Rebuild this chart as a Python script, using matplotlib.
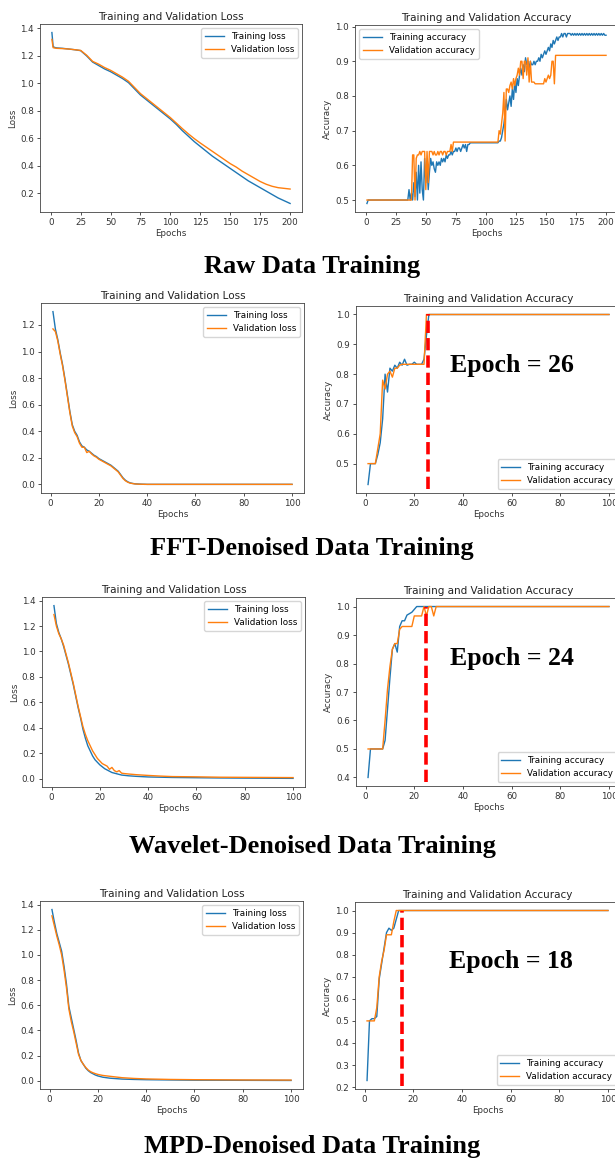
import numpy as np
import matplotlib
matplotlib.use("Agg")
import matplotlib.pyplot as plt
from matplotlib.ticker import MultipleLocator

# =============================================================================
# DATA
# =============================================================================

# --- Raw data, 200 epochs ---
raw_loss_ep = [1, 2, 3, 5, 10, 15, 20, 25, 30, 35, 40, 45, 50, 55, 60, 65, 70, 75, 80, 85,
               90, 95, 100, 105, 110, 115, 120, 125, 130, 135, 140, 145, 150, 155, 160,
               165, 170, 175, 180, 185, 190, 195, 200]
raw_train_loss = [1.37, 1.27, 1.262, 1.258, 1.255, 1.25, 1.245, 1.238, 1.20, 1.155, 1.13,
                  1.105, 1.085, 1.06, 1.035, 1.005, 0.96, 0.915, 0.88, 0.845, 0.81, 0.775,
                  0.74, 0.70, 0.655, 0.615, 0.575, 0.54, 0.505, 0.47, 0.44, 0.41, 0.38,
                  0.35, 0.32, 0.29, 0.265, 0.24, 0.215, 0.19, 0.165, 0.145, 0.125]
raw_val_loss = [1.32, 1.26, 1.258, 1.255, 1.253, 1.25, 1.245, 1.24, 1.205, 1.16, 1.14,
                1.115, 1.095, 1.07, 1.045, 1.015, 0.97, 0.925, 0.89, 0.855, 0.82, 0.785,
                0.75, 0.71, 0.67, 0.632, 0.597, 0.565, 0.535, 0.505, 0.475, 0.445, 0.415,
                0.39, 0.36, 0.335, 0.31, 0.285, 0.265, 0.25, 0.24, 0.235, 0.23]

raw_acc_ep = list(range(1, 201))
raw_train_acc = [
    0.49, 0.50, 0.50, 0.50, 0.50, 0.50, 0.50, 0.50, 0.50, 0.50,
    0.50, 0.50, 0.50, 0.50, 0.50, 0.50, 0.50, 0.50, 0.50, 0.50,
    0.50, 0.50, 0.50, 0.50, 0.50, 0.50, 0.50, 0.50, 0.50, 0.50,
    0.50, 0.50, 0.50, 0.50, 0.50, 0.53, 0.50, 0.52, 0.50, 0.55,
    0.51, 0.58, 0.50, 0.60, 0.52, 0.61, 0.53, 0.50, 0.62, 0.55,
    0.60, 0.53, 0.58, 0.62, 0.60, 0.61, 0.59, 0.58, 0.61, 0.60,
    0.61, 0.60, 0.62, 0.61, 0.62, 0.61, 0.63, 0.62, 0.63, 0.63,
    0.64, 0.63, 0.64, 0.64, 0.65, 0.64, 0.65, 0.65, 0.64, 0.65,
    0.66, 0.65, 0.66, 0.64, 0.66, 0.66, 0.665, 0.665, 0.665, 0.665,
    0.665, 0.665, 0.665, 0.665, 0.665, 0.665, 0.665, 0.665, 0.665, 0.665,
    0.665, 0.665, 0.665, 0.665, 0.665, 0.665, 0.665, 0.665, 0.665, 0.665,
    0.67, 0.67, 0.68, 0.70, 0.72, 0.75, 0.79, 0.76, 0.78, 0.80,
    0.77, 0.82, 0.79, 0.84, 0.81, 0.85, 0.83, 0.86, 0.88, 0.86,
    0.89, 0.87, 0.91, 0.89, 0.90, 0.88, 0.90, 0.89, 0.89, 0.90,
    0.89, 0.90, 0.90, 0.91, 0.90, 0.92, 0.91, 0.92, 0.93, 0.92,
    0.93, 0.94, 0.93, 0.95, 0.94, 0.96, 0.95, 0.96, 0.97, 0.96,
    0.97, 0.97, 0.98, 0.97, 0.98, 0.98, 0.97, 0.98, 0.98, 0.98,
    0.975, 0.98, 0.975, 0.98, 0.975, 0.98, 0.975, 0.98, 0.975, 0.98,
    0.975, 0.98, 0.975, 0.98, 0.975, 0.98, 0.975, 0.98, 0.975, 0.98,
    0.975, 0.98, 0.975, 0.98, 0.975, 0.98, 0.975, 0.98, 0.975, 0.975,
]
raw_val_acc = [
    0.50, 0.50, 0.50, 0.50, 0.50, 0.50, 0.50, 0.50, 0.50, 0.50,
    0.50, 0.50, 0.50, 0.50, 0.50, 0.50, 0.50, 0.50, 0.50, 0.50,
    0.50, 0.50, 0.50, 0.50, 0.50, 0.50, 0.50, 0.50, 0.50, 0.50,
    0.50, 0.50, 0.50, 0.50, 0.50, 0.50, 0.50, 0.50, 0.63, 0.63,
    0.50, 0.62, 0.63, 0.63, 0.64, 0.63, 0.64, 0.64, 0.64, 0.53,
    0.64, 0.55, 0.64, 0.64, 0.64, 0.63, 0.64, 0.63, 0.63, 0.64,
    0.63, 0.64, 0.64, 0.63, 0.64, 0.64, 0.63, 0.64, 0.64, 0.64,
    0.66, 0.64, 0.667, 0.667, 0.667, 0.667, 0.667, 0.667, 0.667, 0.667,
    0.667, 0.667, 0.667, 0.667, 0.667, 0.667, 0.667, 0.667, 0.667, 0.667,
    0.667, 0.667, 0.667, 0.667, 0.667, 0.667, 0.667, 0.667, 0.667, 0.667,
    0.667, 0.667, 0.667, 0.667, 0.667, 0.667, 0.667, 0.667, 0.667, 0.667,
    0.70, 0.69, 0.72, 0.75, 0.81, 0.67, 0.82, 0.82, 0.81, 0.83,
    0.84, 0.82, 0.85, 0.83, 0.85, 0.86, 0.88, 0.86, 0.90, 0.90,
    0.85, 0.90, 0.90, 0.86, 0.91, 0.84, 0.90, 0.84, 0.84, 0.84,
    0.835, 0.835, 0.835, 0.835, 0.835, 0.835, 0.835, 0.835, 0.85, 0.84,
    0.85, 0.86, 0.85, 0.86, 0.90, 0.90, 0.835, 0.917, 0.917, 0.917,
    0.917, 0.917, 0.917, 0.917, 0.917, 0.917, 0.917, 0.917, 0.917, 0.917,
    0.917, 0.917, 0.917, 0.917, 0.917, 0.917, 0.917, 0.917, 0.917, 0.917,
    0.917, 0.917, 0.917, 0.917, 0.917, 0.917, 0.917, 0.917, 0.917, 0.917,
    0.917, 0.917, 0.917, 0.917, 0.917, 0.917, 0.917, 0.917, 0.917, 0.917,
]

# --- FFT-denoised, 100 epochs ---
fft_loss_ep = list(range(1, 41)) + [50, 60, 70, 80, 90, 100]
fft_train_loss = [1.30, 1.17, 1.09, 0.99, 0.90, 0.79, 0.67, 0.55, 0.45, 0.40,
                  0.37, 0.32, 0.29, 0.28, 0.26, 0.25, 0.235, 0.22, 0.21, 0.195,
                  0.185, 0.175, 0.165, 0.155, 0.145, 0.13, 0.115, 0.10, 0.075, 0.05,
                  0.032, 0.02, 0.012, 0.008, 0.005, 0.004, 0.003, 0.002, 0.002, 0.001,
                  0.001, 0.001, 0.001, 0.001, 0.001, 0.001]
fft_val_loss = [1.17, 1.15, 1.08, 0.98, 0.89, 0.78, 0.66, 0.54, 0.44, 0.39,
                0.36, 0.31, 0.28, 0.28, 0.24, 0.25, 0.23, 0.215, 0.205, 0.19,
                0.18, 0.17, 0.16, 0.15, 0.14, 0.125, 0.11, 0.095, 0.07, 0.045,
                0.028, 0.017, 0.010, 0.007, 0.004, 0.003, 0.002, 0.002, 0.001, 0.001,
                0.001, 0.001, 0.001, 0.001, 0.001, 0.001]

fft_acc_ep = list(range(1, 31)) + [40, 50, 60, 70, 80, 90, 100]
fft_train_acc = [0.43, 0.50, 0.50, 0.50, 0.53, 0.57, 0.65, 0.80, 0.74, 0.82,
                 0.81, 0.83, 0.82, 0.84, 0.83, 0.85, 0.83, 0.833, 0.833, 0.84,
                 0.833, 0.833, 0.833, 0.85, 0.93, 1.0, 1.0, 1.0, 1.0, 1.0,
                 1.0, 1.0, 1.0, 1.0, 1.0, 1.0, 1.0]
fft_val_acc = [0.50, 0.50, 0.50, 0.50, 0.55, 0.60, 0.78, 0.75, 0.80, 0.81,
               0.79, 0.82, 0.82, 0.83, 0.833, 0.833, 0.833, 0.833, 0.833, 0.833,
               0.833, 0.833, 0.833, 0.833, 1.0, 1.0, 1.0, 1.0, 1.0, 1.0,
               1.0, 1.0, 1.0, 1.0, 1.0, 1.0, 1.0]

# --- Wavelet-denoised, 100 epochs ---
wav_loss_ep = list(range(1, 31)) + [32, 35, 40, 45, 50, 60, 70, 80, 90, 100]
wav_train_loss = [1.36, 1.22, 1.15, 1.10, 1.04, 0.97, 0.90, 0.82, 0.74, 0.65,
                  0.56, 0.48, 0.39, 0.32, 0.26, 0.22, 0.18, 0.15, 0.13, 0.11,
                  0.095, 0.08, 0.07, 0.06, 0.05, 0.045, 0.04, 0.035, 0.03, 0.028,
                  0.024, 0.02, 0.015, 0.013, 0.011, 0.009, 0.007, 0.006, 0.005, 0.004]
wav_val_loss = [1.29, 1.20, 1.14, 1.10, 1.05, 0.98, 0.91, 0.83, 0.75, 0.66,
                0.57, 0.49, 0.41, 0.35, 0.30, 0.26, 0.22, 0.19, 0.16, 0.14,
                0.12, 0.11, 0.10, 0.075, 0.09, 0.065, 0.055, 0.065, 0.045, 0.042,
                0.038, 0.033, 0.027, 0.022, 0.018, 0.016, 0.013, 0.012, 0.011, 0.010]

wav_acc_ep = list(range(1, 31)) + [40, 50, 60, 70, 80, 90, 100]
wav_train_acc = [0.40, 0.50, 0.50, 0.50, 0.50, 0.50, 0.50, 0.53, 0.64, 0.75,
                 0.85, 0.87, 0.84, 0.93, 0.95, 0.95, 0.97, 0.975, 0.98, 0.99,
                 1.0, 1.0, 1.0, 1.0, 1.0, 1.0, 1.0, 1.0, 1.0, 1.0,
                 1.0, 1.0, 1.0, 1.0, 1.0, 1.0, 1.0]
wav_val_acc = [0.50, 0.50, 0.50, 0.50, 0.50, 0.50, 0.50, 0.60, 0.71, 0.79,
               0.85, 0.87, 0.87, 0.92, 0.93, 0.93, 0.93, 0.93, 0.93, 0.967,
               0.967, 0.967, 0.967, 1.0, 0.967, 1.0, 1.0, 0.967, 1.0, 1.0,
               1.0, 1.0, 1.0, 1.0, 1.0, 1.0, 1.0]

# --- MPD-denoised, 100 epochs ---
mpd_loss_ep = list(range(1, 21)) + [22, 25, 30, 35, 40, 50, 60, 80, 100]
mpd_train_loss = [1.36, 1.26, 1.17, 1.10, 1.03, 0.91, 0.77, 0.59, 0.50, 0.41,
                  0.32, 0.22, 0.16, 0.13, 0.10, 0.08, 0.065, 0.055, 0.045, 0.038,
                  0.028, 0.02, 0.013, 0.01, 0.008, 0.006, 0.004, 0.003, 0.002]
mpd_val_loss = [1.31, 1.23, 1.15, 1.08, 1.00, 0.88, 0.74, 0.57, 0.47, 0.39,
                0.30, 0.21, 0.16, 0.13, 0.105, 0.085, 0.072, 0.063, 0.056, 0.05,
                0.042, 0.035, 0.024, 0.018, 0.014, 0.010, 0.008, 0.006, 0.005]

mpd_acc_ep = list(range(1, 21)) + [30, 40, 50, 60, 70, 80, 90, 100]
mpd_train_acc = [0.23, 0.50, 0.51, 0.51, 0.52, 0.69, 0.76, 0.83, 0.90, 0.92,
                 0.91, 0.92, 0.96, 1.0, 1.0, 1.0, 1.0, 1.0, 1.0, 1.0,
                 1.0, 1.0, 1.0, 1.0, 1.0, 1.0, 1.0, 1.0]
mpd_val_acc = [0.50, 0.50, 0.50, 0.50, 0.56, 0.70, 0.77, 0.82, 0.89, 0.89,
               0.89, 0.95, 1.0, 1.0, 1.0, 1.0, 1.0, 1.0, 1.0, 1.0,
               1.0, 1.0, 1.0, 1.0, 1.0, 1.0, 1.0, 1.0]

# converged-epoch markers (label, where the dashed line sits)
epoch_labels = ["Epoch = 26", "Epoch = 24", "Epoch = 18"]
epoch_lines = [25.5, 24.8, 15.2]

captions = ["Raw Data Training", "FFT-Denoised Data Training",
            "Wavelet-Denoised Data Training", "MPD-Denoised Data Training"]

# =============================================================================
# LAYOUT (pixel boxes of the panels in the 615x1165 picture)
# =============================================================================
W, H = 615, 1165
fig = plt.figure(figsize=(W / 100, H / 100), dpi=100)
fig.patch.set_facecolor("white")

SMALL = 6.3
TITLE = 7.5


def add_ax(left, top, right, bottom):
    ax = fig.add_axes([left / W, 1 - bottom / H, (right - left) / W, (bottom - top) / H])
    for s in ax.spines.values():
        s.set_linewidth(0.6)
        s.set_color("#444444")
    ax.tick_params(labelsize=SMALL, length=2.5, width=0.6, pad=2, colors="#333333")
    return ax


def loss_panel(box, ep, tr, va, xstep, ystep):
    ax = add_ax(*box)
    ax.plot(ep, tr, color="tab:blue", lw=1.0, label="Training loss")
    ax.plot(ep, va, color="tab:orange", lw=1.0, label="Validation loss")
    ax.set_title("Training and Validation Loss", fontsize=TITLE, pad=3, color="#222222")
    ax.set_xlabel("Epochs", fontsize=SMALL, labelpad=1.5, color="#333333")
    ax.set_ylabel("Loss", fontsize=SMALL, labelpad=2, color="#333333")
    ax.xaxis.set_major_locator(MultipleLocator(xstep))
    ax.yaxis.set_major_locator(MultipleLocator(ystep))
    ax.legend(loc="upper right", fontsize=SMALL, handlelength=2.2)
    return ax


def acc_panel(box, ep, tr, va, xstep, legend_loc):
    ax = add_ax(*box)
    ax.plot(ep, tr, color="tab:blue", lw=1.0, label="Training accuracy")
    ax.plot(ep, va, color="tab:orange", lw=1.0, label="Validation accuracy")
    ax.set_title("Training and Validation Accuracy", fontsize=TITLE, pad=3, color="#222222")
    ax.set_xlabel("Epochs", fontsize=SMALL, labelpad=1.5, color="#333333")
    ax.set_ylabel("Accuracy", fontsize=SMALL, labelpad=2, color="#333333")
    ax.xaxis.set_major_locator(MultipleLocator(xstep))
    ax.yaxis.set_major_locator(MultipleLocator(0.1))
    ax.legend(loc=legend_loc, fontsize=SMALL, handlelength=2.2)
    return ax


# row 1 - raw
loss_panel((40, 24, 302, 212), raw_loss_ep, raw_train_loss, raw_val_loss, 25, 0.2)
acc_panel((355, 25, 618, 212), raw_acc_ep, raw_train_acc, raw_val_acc, 25, "upper left")

# row 2 - FFT
loss_panel((41, 303, 304, 493), fft_loss_ep, fft_train_loss, fft_val_loss, 20, 0.2)
ax_fft = acc_panel((356, 306, 621, 493), fft_acc_ep, fft_train_acc, fft_val_acc, 20, "lower right")

# row 3 - wavelet
loss_panel((42, 597, 305, 787), wav_loss_ep, wav_train_loss, wav_val_loss, 20, 0.2)
ax_wav = acc_panel((356, 598, 621, 786), wav_acc_ep, wav_train_acc, wav_val_acc, 20, "lower right")

# row 4 - MPD
loss_panel((40, 901, 303, 1089), mpd_loss_ep, mpd_train_loss, mpd_val_loss, 20, 0.2)
ax_mpd = acc_panel((355, 902, 620, 1089), mpd_acc_ep, mpd_train_acc, mpd_val_acc, 20, "lower right")

# red dashed convergence lines + labels
for ax, lab, xl in zip([ax_fft, ax_wav, ax_mpd], epoch_labels, epoch_lines):
    lo = ax.get_ylim()[0]
    ax.plot([xl, xl], [lo + 0.015, 1.0], color="red", lw=2.6, dashes=(3.4, 1.4),
            scalex=False, scaley=False, zorder=5)
    ax.text(0.355, 0.68, lab, transform=ax.transAxes, ha="left", va="center",
            fontsize=18.5, fontweight="bold", family="Liberation Serif")

# captions under each row
cap_y = [266, 548, 846, 1146]
for cap, y in zip(captions, cap_y):
    fig.text(312 / W, 1 - y / H, cap, ha="center", va="center", fontsize=19,
             fontweight="bold", family="Liberation Serif")

fig.savefig("out.png", dpi=100)
